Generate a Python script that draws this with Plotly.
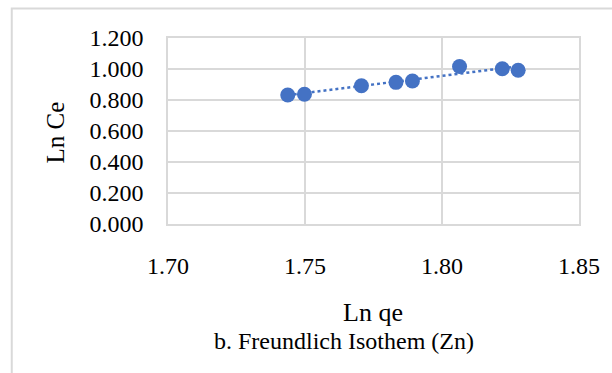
import numpy as np
import plotly.graph_objects as go

# Freundlich isotherm data for Zn
ln_qe = [1.7437, 1.7498, 1.7706, 1.7832, 1.7892, 1.8064, 1.8220, 1.8278]
ln_ce = [0.832, 0.837, 0.892, 0.914, 0.923, 1.016, 1.002, 0.992]

x_ticks = [1.70, 1.75, 1.80, 1.85]
y_ticks = [0.0, 0.2, 0.4, 0.6, 0.8, 1.0, 1.2]

W, H = 612, 373
L, R, T, B = 168, 31, 38, 149
PW, PH = W - L - R, H - T - B

BLUE = "#4472C4"
GRID = "#D9D9D9"
FONT = "Liberation Serif"

# linear trendline over the data range
slope, icpt = np.polyfit(ln_qe, ln_ce, 1)
tx = np.array([min(ln_qe), max(ln_qe)])
ty = slope * tx + icpt

fig = go.Figure()
fig.add_trace(go.Scatter(
    x=tx, y=ty, mode="lines",
    line=dict(color=BLUE, width=2.5, dash="dot"),
    hoverinfo="skip", showlegend=False,
))
fig.add_trace(go.Scatter(
    x=ln_qe, y=ln_ce, mode="markers",
    marker=dict(color=BLUE, size=15, line=dict(width=0)),
    showlegend=False,
))

def px_x(p):
    return (p - L) / PW

def px_y(p):
    return 1 - (p - T) / PH

tick_font = dict(family=FONT, size=24, color="#000000")

fig.update_layout(
    width=W, height=H,
    margin=dict(l=L, r=R, t=T, b=B, pad=0),
    paper_bgcolor="white", plot_bgcolor="white",
    font=dict(family=FONT, size=24, color="#000000"),
    xaxis=dict(
        range=[1.70, 1.85], tickvals=x_ticks,
        ticktext=[f"{v:.2f}" for v in x_ticks], tickfont=tick_font,
        showgrid=True, gridcolor=GRID, gridwidth=1.5,
        zeroline=False, showline=True, linecolor=GRID, linewidth=1.5, mirror=True,
        ticks="", ticklabelstandoff=19, fixedrange=True,
    ),
    yaxis=dict(
        range=[0, 1.2], tickvals=y_ticks,
        ticktext=[f"{v:.3f}" for v in y_ticks], tickfont=tick_font,
        showgrid=True, gridcolor=GRID, gridwidth=1.5,
        zeroline=False, showline=True, linecolor=GRID, linewidth=1.5, mirror=True,
        ticks="", ticklabelstandoff=18, fixedrange=True,
    ),
    shapes=[dict(
        type="rect", xref="paper", yref="paper",
        x0=px_x(11), x1=px_x(W + 20), y0=px_y(H + 20), y1=px_y(8.5),
        line=dict(color=GRID, width=2), fillcolor="rgba(0,0,0,0)", layer="below",
    )],
    annotations=[
        dict(text="Ln Ce", textangle=-90, x=px_x(54), y=px_y(133),
             xref="paper", yref="paper", showarrow=False,
             xanchor="center", yanchor="middle",
             font=dict(family=FONT, size=25, color="#000000")),
        dict(text="Ln qe", x=px_x(374), y=px_y(312),
             xref="paper", yref="paper", showarrow=False,
             xanchor="center", yanchor="middle",
             font=dict(family=FONT, size=26, color="#000000")),
        dict(text="b. Freundlich Isothem (Zn)", x=px_x(345), y=px_y(341),
             xref="paper", yref="paper", showarrow=False,
             xanchor="center", yanchor="middle",
             font=dict(family=FONT, size=24, color="#000000")),
    ],
)

fig.write_html("out.html")
